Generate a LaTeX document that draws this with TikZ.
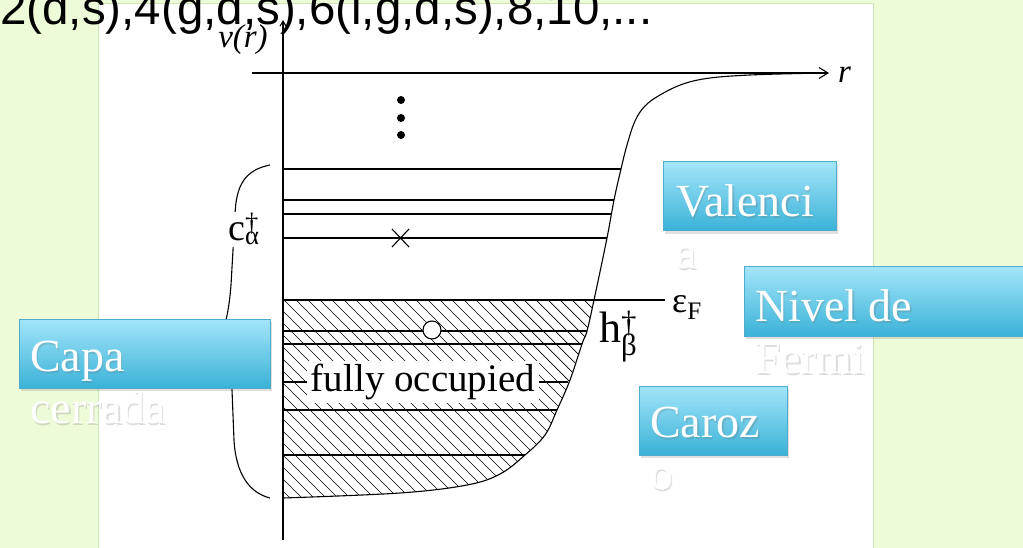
\documentclass[tikz,border=0pt]{standalone}
\usepackage{fontspec}
\setmainfont{Liberation Serif}
\newfontfamily\headfont{Liberation Sans}
\usetikzlibrary{arrows.meta,shadows}

\definecolor{bggreen}{RGB}{237,251,216}
\definecolor{paneledge}{RGB}{205,228,180}
\definecolor{boxtop}{RGB}{163,229,250}
\definecolor{boxbot}{RGB}{58,178,215}
\definecolor{boxedge}{RGB}{78,172,204}

% potential well, from the bottom of the core up to the r axis
\def\wellcurve{plot[smooth,tension=0.6] coordinates {(283,498) (400,493) (467,485) (500,474) (525,455) (545,435) (557,410) (570,380) (582,344) (587,331) (594,300) (607,238) (614,200) (621,169) (627,145) (635,121) (645,106) (660,95) (683,84) (710,78) (750,75) (800,73.5) (828,73)}}

\begin{document}
\begin{tikzpicture}[
  x=1pt, y=-1pt,
  level/.style={line width=1.1pt},
  hatch/.style={line width=0.7pt},
  lbl/.style={inner sep=0pt},
  bluebox/.style={draw=boxedge, line width=1pt, top color=boxtop, bottom color=boxbot,
    minimum height=69pt, inner sep=0pt,
    drop shadow={opacity=0.25, shadow xshift=2pt, shadow yshift=-3pt}},
  boxtext/.style={anchor=north west, inner sep=0pt, align=left, text=white,
    font=\fontsize{46}{52}\selectfont},
  txtshade/.style={boxtext, text=black!60, opacity=0.22}
]
\useasboundingbox (0,0) rectangle (1023,548);
\fill[bggreen] (0,0) rectangle (1023,548);
\filldraw[fill=white, draw=paneledge, line width=0.8pt] (98,3) rectangle (873,548);

% hatched core below the Fermi level
\begin{scope}
  \clip (283,300) rectangle (700,520);
  \clip \wellcurve -- (283,73) -- cycle;
  \foreach \i in {80,92,...,600}
    \draw[hatch] (\i,300) -- ++(230,230);
\end{scope}

% levels
\foreach \y/\xe in {169/621, 200/614, 214/612, 238/607, 331/587, 344/582, 382/568, 410/557, 455/525}
  \draw[level] (283,\y) -- (\xe,\y);
\draw[level] (283,300) -- (665,300);

\draw[level] \wellcurve;

% axes
\coordinate (ybot) at (283,540);
\coordinate (ytop) at (283,20);
\coordinate (xleft) at (252,73);
\coordinate (xright) at (829,73);
\draw[level, -{Straight Barb[length=5pt,width=6pt]}] (ybot) -- (ytop);
\draw[level, -{Straight Barb[length=9pt,width=11pt]}] (xleft) -- (xright);
\node[lbl, font=\fontsize{33}{34}\selectfont\itshape] (vr) at (243,40) {v(r)};
\node[lbl, anchor=west, font=\fontsize{33}{34}\selectfont\itshape] (r) at (838,75) {r};

% dots, particle and hole
\foreach \y in {100,118,135}
  \fill (401,\y) circle (4);
\draw[level] (392,229) -- (409,247) (392,247) -- (409,229);
\node[circle, draw, fill=white, line width=1.1pt, minimum size=18pt, inner sep=0pt] (hole) at (432,330) {};

\node[fill=white, inner xsep=4pt, inner ysep=3pt, font=\fontsize{39}{42}\selectfont] (full) at (423,382) {fully occupied};

\node[lbl, anchor=base west, font=\fontsize{36}{38}\selectfont] (ef) at (672,312) {ε\textsubscript{F}};
\node[lbl, anchor=base west, font=\fontsize{44}{46}\selectfont] (hb) at (599,342) {h\rlap{\textsuperscript{†}}\textsubscript{β}};

% brace on the left
\draw[level] (270,165) .. controls (245,170) and (236,185) .. (235,215) -- (231,285)
  .. controls (229,310) and (225,335) .. (212,352) .. controls (225,360) and (231,370) .. (232,390)
  -- (234,440) .. controls (236,475) and (250,493) .. (270,498);
\node[lbl, anchor=base west, fill=white, inner sep=2pt, font=\fontsize{38}{40}\selectfont] (ca) at (226,241) {c\rlap{\textsuperscript{†}}\textsubscript{α}};

% title line
\node[lbl, anchor=base west, font=\headfont\fontsize{47.5}{50}\selectfont] (title) at (0,25) {2(d,s),4(g,d,s),6(i,g,d,s),8,10,...};

% blue boxes
\node[bluebox, minimum width=173pt] (val) at (749.5,196.5) {};
\node[bluebox, minimum width=290pt] (fermi) at (889,301.5) {};
\node[bluebox, minimum width=251pt] (capa) at (144.5,353.5) {};
\node[bluebox, minimum width=148pt] (caroz) at (713,420.5) {};

\node[txtshade] at (677.5,186) {Valenci\\a};
\node[boxtext] (valtxt) at (676,184) {Valenci\\a};
\node[txtshade] at (756.5,291) {Nivel de\\Fermi};
\node[boxtext] (fermitxt) at (755,289) {Nivel de\\Fermi};
\node[txtshade] at (31.5,343) {Capa\\cerrada};
\node[boxtext] (capatxt) at (30,341) {Capa\\cerrada};
\node[txtshade] at (651.5,409) {Caroz\\o};
\node[boxtext] (caroztxt) at (650,407) {Caroz\\o};
\end{tikzpicture}
\end{document}
